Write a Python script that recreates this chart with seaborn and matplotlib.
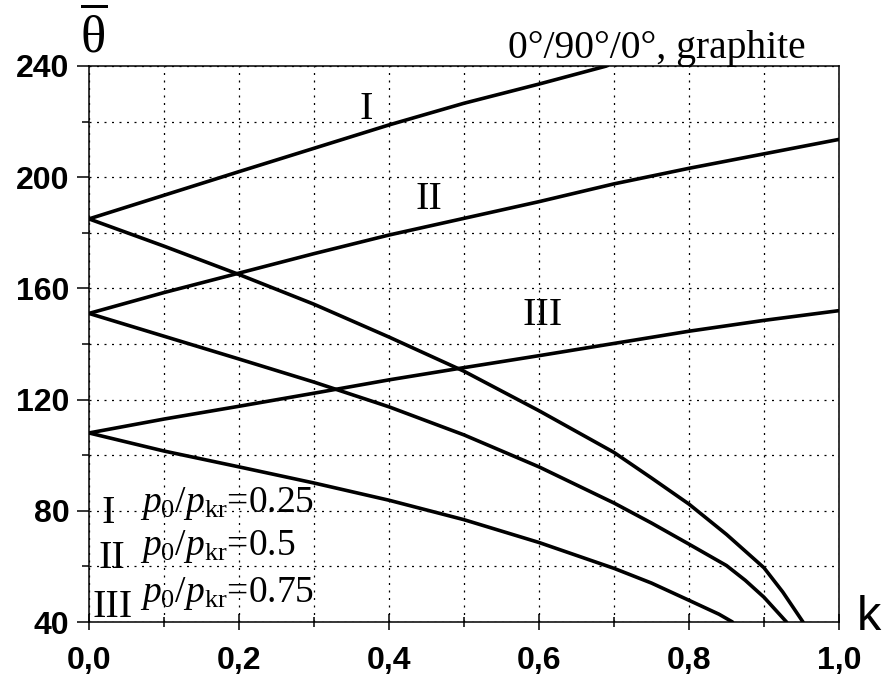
import matplotlib
matplotlib.use("Agg")
import matplotlib.pyplot as plt
from matplotlib.ticker import MultipleLocator, FuncFormatter
import numpy as np
import pandas as pd
import seaborn as sns

# Dimensionless critical temperature vs. k for a 0/90/0 graphite plate
k_I_up = [0.0, 0.1, 0.2, 0.3, 0.4, 0.5, 0.6, 0.69]
th_I_up = [185.0, 193.5, 202.0, 210.4, 218.8, 226.6, 233.5, 240.0]

k_I_lo = [0.0, 0.1, 0.2, 0.3, 0.4, 0.5, 0.6, 0.7, 0.75, 0.8, 0.85, 0.9, 0.925, 0.94, 0.952]
th_I_lo = [185.0, 175.2, 165.0, 154.3, 142.5, 130.2, 116.0, 101.0, 91.8, 82.4, 71.5,
           59.5, 50.8, 44.8, 40.0]

k_II_up = [0.0, 0.1, 0.2, 0.3, 0.4, 0.5, 0.6, 0.7, 0.8, 0.9, 1.0]
th_II_up = [151.0, 158.5, 165.5, 172.5, 179.2, 185.2, 191.2, 197.6, 203.2, 208.4, 213.6]

k_II_lo = [0.0, 0.1, 0.2, 0.3, 0.4, 0.5, 0.6, 0.7, 0.75, 0.8, 0.85, 0.875, 0.9, 0.93]
th_II_lo = [151.0, 142.8, 134.6, 126.3, 117.4, 107.3, 95.8, 82.8, 75.6, 68.0, 60.3,
            55.0, 48.9, 40.0]

k_III_up = [0.0, 0.1, 0.2, 0.3, 0.4, 0.5, 0.6, 0.7, 0.8, 0.9, 1.0]
th_III_up = [108.0, 113.0, 117.6, 122.3, 127.1, 131.5, 135.8, 140.2, 144.6, 148.5, 152.0]

k_III_lo = [0.0, 0.1, 0.2, 0.3, 0.4, 0.5, 0.6, 0.7, 0.75, 0.8, 0.84, 0.858]
th_III_lo = [108.0, 101.5, 95.8, 90.0, 83.8, 76.8, 68.6, 59.3, 54.0, 47.8, 42.8, 40.0]

curve_names = ["I+", "I-", "II+", "II-", "III+", "III-"]
curve_k = [k_I_up, k_I_lo, k_II_up, k_II_lo, k_III_up, k_III_lo]
curve_th = [th_I_up, th_I_lo, th_II_up, th_II_lo, th_III_up, th_III_lo]

ratio_labels = ["I", "II", "III"]
ratio_values = ["0.25", "0.5", "0.75"]

x_ticks = [0.0, 0.2, 0.4, 0.6, 0.8, 1.0]
y_ticks = [40, 80, 120, 160, 200, 240]

frames = []
for name, ks, ths in zip(curve_names, curve_k, curve_th):
    frames.append(pd.DataFrame({"k": ks, "theta": ths, "curve": name}))
df = pd.concat(frames, ignore_index=True)

sns.set_theme(style="white")
plt.rcParams["font.family"] = ["Liberation Sans", "DejaVu Sans"]
plt.rcParams["text.color"] = "black"
plt.rcParams["axes.labelcolor"] = "black"
plt.rcParams["xtick.color"] = "black"
plt.rcParams["ytick.color"] = "black"
plt.rcParams["mathtext.fontset"] = "custom"
plt.rcParams["mathtext.rm"] = "Liberation Serif"
plt.rcParams["mathtext.it"] = "Liberation Serif:italic"
plt.rcParams["mathtext.bf"] = "Liberation Serif:bold"

W, H = 882, 678
fig = plt.figure(figsize=(W / 100, H / 100), dpi=100)
ax = fig.add_axes([89 / W, 1 - 622 / H, (839 - 89) / W, (622 - 66) / H])

sns.lineplot(data=df, x="k", y="theta", units="curve", estimator=None,
             sort=False, color="black", linewidth=2.6, ax=ax, legend=False)
for ln in ax.get_lines():
    ln.set_solid_joinstyle("round")
    ln.set_solid_capstyle("round")

ax.set_xlim(0.0, 1.0)
ax.set_ylim(40, 240)
ax.set_xlabel("")
ax.set_ylabel("")

ax.xaxis.set_major_locator(MultipleLocator(0.2))
ax.xaxis.set_minor_locator(MultipleLocator(0.1))
ax.yaxis.set_major_locator(MultipleLocator(40))
ax.yaxis.set_minor_locator(MultipleLocator(20))
ax.set_xticks(x_ticks)
ax.set_yticks(y_ticks)
ax.xaxis.set_major_formatter(FuncFormatter(lambda v, p: f"{v:.1f}".replace(".", ",")))
ax.yaxis.set_major_formatter(FuncFormatter(lambda v, p: f"{int(round(v))}"))

ax.grid(which="both", color="black", linewidth=0.9, linestyle=(0, (1.6, 4.4)))
for sp in ax.spines.values():
    sp.set_color("black")
    sp.set_linewidth(1.1)

ax.tick_params(axis="x", which="major", direction="inout", length=12, width=1.1,
               pad=11, labelsize=23, labelcolor="black", bottom=True, top=False)
ax.tick_params(axis="x", which="minor", direction="inout", length=7, width=1.1,
               bottom=True, top=False)
ax.tick_params(axis="y", which="major", direction="out", length=9, width=1.1,
               pad=5, labelsize=23, labelcolor="black", left=True, right=False)
ax.tick_params(axis="y", which="minor", direction="out", length=5, width=1.1,
               left=True, right=False)
for lab in ax.get_xticklabels() + ax.get_yticklabels():
    lab.set_fontweight("bold")

serif = ["Liberation Serif", "DejaVu Serif"]

# curve numerals
ax.text(0.369, 224.5, "I", family=serif, fontsize=29, ha="center", va="center")
ax.text(0.453, 192.0, "II", family=serif, fontsize=29, ha="center", va="center")
ax.text(0.605, 150.4, "III", family=serif, fontsize=29, ha="center", va="center")

# load-ratio key in the lower-left corner
num_x = [0.025, 0.031, 0.031]
num_y = [75.6, 59.4, 41.8]
expr_y = [79.6, 64.1, 47.2]
for lab, val, nx, ny, ey in zip(ratio_labels, ratio_values, num_x, num_y, expr_y):
    ax.text(nx, ny, lab, family=serif, fontsize=29, ha="center", va="baseline")
    ax.text(0.068, ey, r"$p_{0}/p_{\mathrm{kr}}$=" + val, family=serif,
            fontsize=27, ha="left", va="baseline")

# axis symbols and heading
fig.text(94 / W, 1 - 36 / H, r"$\overline{\mathrm{\theta}}$", fontsize=38,
         ha="center", va="center")
fig.text(857 / W, 1 - 630 / H, "k", fontsize=35, ha="left", va="baseline",
         family=["Liberation Sans", "DejaVu Sans"])
fig.text(508 / W, 1 - 58 / H, "0°/90°/0°, graphite", family=serif, fontsize=28.5,
         ha="left", va="baseline")

fig.savefig("out.png", dpi=100, facecolor="white")
